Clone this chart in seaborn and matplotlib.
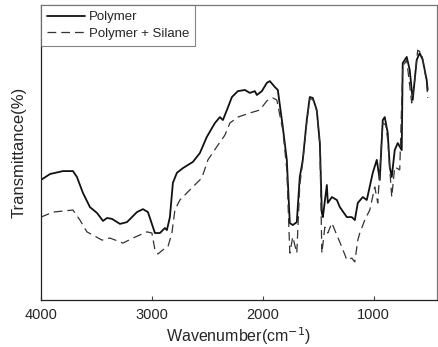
import matplotlib
matplotlib.use("Agg")
import matplotlib.pyplot as plt
import seaborn as sns
import pandas as pd

wn_polymer = [4000, 3919, 3802, 3712, 3676, 3622, 3559, 3495, 3441, 3405, 3360, 3288, 3225, 3135, 3081, 3036,
              2973, 2928, 2883, 2865, 2838, 2811, 2775, 2721, 2631, 2568, 2505, 2432, 2387, 2360, 2324, 2279,
              2225, 2162, 2117, 2072, 2054, 2009, 1964, 1937, 1892, 1865, 1820, 1784, 1757, 1730, 1694, 1667,
              1640, 1604, 1577, 1550, 1514, 1486, 1468, 1459, 1423, 1414, 1378, 1333, 1306, 1243, 1198, 1171,
              1144, 1099, 1063, 1009, 973, 946, 919, 901, 874, 856, 838, 811, 784, 748, 739, 703, 676, 649,
              613, 586, 559, 523, 514]
t_polymer = [40.7, 42.7, 43.7, 43.7, 41.7, 36.3, 31.5, 29.5, 26.8, 27.8, 27.5, 25.8, 26.4, 29.8, 30.8, 29.8,
             22.7, 22.7, 24.4, 23.7, 28.1, 39.7, 43.1, 44.7, 46.8, 49.8, 55.3, 60.0, 62.0, 61.0, 64.4, 68.8,
             70.8, 71.2, 70.2, 70.8, 69.5, 70.8, 73.6, 74.2, 72.2, 71.2, 58.6, 47.5, 26.1, 25.4, 26.4, 41.7,
             47.5, 61.0, 68.8, 68.5, 64.4, 53.2, 29.5, 28.1, 39.0, 32.9, 34.9, 33.9, 31.5, 28.1, 28.1, 27.1,
             32.9, 34.9, 33.9, 43.1, 47.5, 40.7, 61.0, 62.0, 56.6, 45.1, 41.7, 50.8, 53.2, 50.8, 80.3, 82.4,
             78.0, 67.8, 81.4, 83.7, 81.4, 74.6, 71.2]

wn_silane = [4000, 3892, 3712, 3649, 3586, 3450, 3378, 3261, 3171, 3045, 3000, 2973, 2946, 2901, 2856, 2820,
             2793, 2748, 2658, 2550, 2495, 2405, 2342, 2297, 2225, 2117, 2027, 1964, 1910, 1874, 1820, 1784,
             1757, 1730, 1694, 1667, 1640, 1604, 1577, 1550, 1514, 1486, 1468, 1441, 1414, 1378, 1333, 1288,
             1243, 1198, 1171, 1144, 1126, 1081, 1036, 991, 964, 919, 892, 874, 838, 811, 766, 739, 703, 658,
             631, 604, 568, 523, 514]
t_silane = [28.1, 29.8, 30.5, 27.1, 23.1, 20.3, 21.0, 19.3, 21.0, 23.1, 22.7, 17.0, 15.6, 17.0, 18.0, 22.7,
            30.5, 33.9, 37.3, 41.4, 47.5, 52.5, 55.9, 60.0, 62.0, 63.4, 64.4, 67.5, 68.5, 67.8, 57.6, 44.1,
            15.9, 21.4, 15.9, 39.0, 46.8, 60.3, 68.1, 68.1, 64.1, 52.5, 15.9, 24.7, 22.7, 26.1, 22.0, 18.0,
            13.6, 14.2, 12.9, 20.3, 22.7, 27.1, 30.5, 38.3, 32.9, 60.0, 59.3, 54.2, 34.9, 45.1, 44.1, 79.0,
            81.4, 66.8, 74.6, 84.7, 83.7, 73.6, 68.5]

series_labels = ["Polymer", "Polymer + Silane"]
x_ticks = [4000, 3000, 2000, 1000]

sns.set_theme(style="white")
plt.rcParams['font.family'] = ['Liberation Sans', 'DejaVu Sans']

fig = plt.figure(figsize=(4.39, 3.47), dpi=100)
ax = fig.add_axes([41/439, 47/347, 396/439, 295/347])

df1 = pd.DataFrame({"wn": wn_polymer, "t": t_polymer})
df2 = pd.DataFrame({"wn": wn_silane, "t": t_silane})
sns.lineplot(data=df1, x="wn", y="t", ax=ax, sort=False, color="#111111", lw=1.3, label=series_labels[0])
sns.lineplot(data=df2, x="wn", y="t", ax=ax, sort=False, color="#333333", lw=0.9,
             linestyle=(0, (7, 4)), label=series_labels[1])

ax.set_xlim(4000, 430)
ax.set_ylim(0, 100)
ax.set_xticks(x_ticks)
ax.set_xticklabels([str(v) for v in x_ticks], fontsize=10.5)
ax.set_yticks([])
ax.tick_params(axis="x", direction="in", length=3, width=0.8, color="#444444", pad=6, bottom=True)
ax.set_xlabel("Wavenumber(cm$^{-1}$)", fontsize=11.5, labelpad=2)
ax.set_ylabel("Transmittance(%)", fontsize=12, labelpad=10)

for side, sp in ax.spines.items():
    sp.set_visible(True)
    sp.set_linewidth(0.9)
    sp.set_color("#222222" if side in ("left", "bottom") else "#777777")

leg = ax.legend(loc="upper left", fontsize=9.5, frameon=True, fancybox=False, borderaxespad=0,
                handlelength=2.9, handletextpad=0.3, labelspacing=0.35, borderpad=0.45)
leg.get_frame().set_edgecolor("#666666")
leg.get_frame().set_linewidth(0.8)

fig.savefig("out.png", dpi=100)
